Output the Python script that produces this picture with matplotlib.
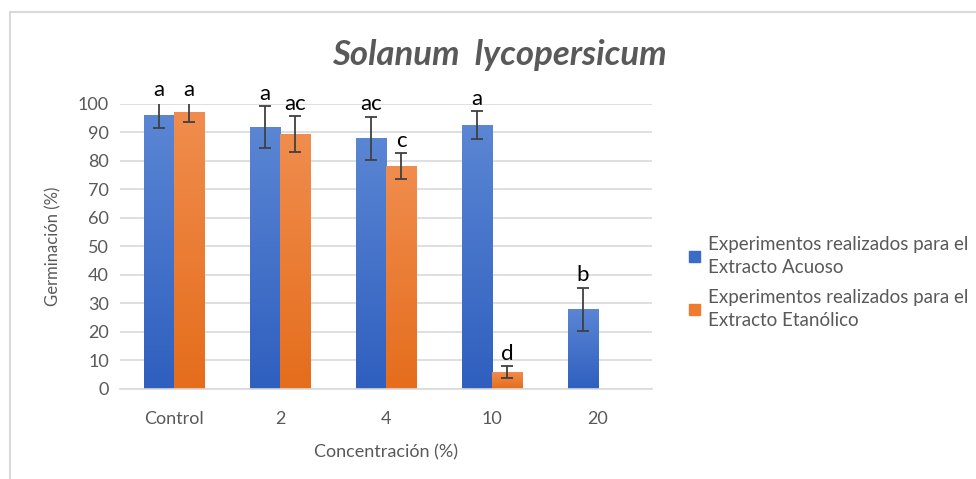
import matplotlib.pyplot as plt
import numpy as np
from matplotlib.patches import Rectangle
from matplotlib.colors import LinearSegmentedColormap

plt.rcParams['font.family'] = ['Lato', 'DejaVu Sans']

categories = ["Control", "2", "4", "10", "20"]
acuoso = [96, 92, 88, 92.6, 28]
acuoso_err = [4.5, 7.3, 7.5, 5, 7.5]
acuoso_letters = ["a", "a", "ac", "a", "b"]
etanolico = [97.2, 89.5, 78.3, 6, 0]
etanolico_err = [3.5, 6.2, 4.5, 2, 0]
etanolico_letters = ["a", "ac", "c", "d", ""]

blue_cmap = LinearSegmentedColormap.from_list("b", ["#2f5fbf", "#5b86d4"])
orange_cmap = LinearSegmentedColormap.from_list("o", ["#e56d1c", "#f08d4e"])

fig = plt.figure(figsize=(9.76, 4.79), dpi=100)
# outer frame like the office chart border
fig.patches.append(Rectangle((10 / 976, -0.1), 1.2, 1 - 12 / 479 + 0.1,
                             transform=fig.transFigure, fill=False,
                             edgecolor="#d9d9d9", linewidth=1.5))

ax = fig.add_axes([0.123, 0.188, 0.545, 0.595])
x = np.arange(len(categories))
w = 0.285


def gradient_bars(xs, vals, cmap):
    bars = ax.bar(xs, vals, w, color="none", edgecolor="none", zorder=2)
    grad = np.linspace(0, 1, 256).reshape(-1, 1)
    for b in bars:
        if b.get_height() <= 0:
            continue
        x0, y0 = b.get_x(), b.get_y()
        im = ax.imshow(grad, cmap=cmap, aspect="auto", origin="lower",
                       extent=(x0, x0 + b.get_width(), y0, y0 + b.get_height()),
                       zorder=2)
        im.set_clip_path(b)
    return bars


gradient_bars(x - w / 2, acuoso, blue_cmap)
gradient_bars(x + w / 2, etanolico, orange_cmap)

err_kw = dict(fmt="none", ecolor="#404040", elinewidth=1.3, capsize=4, capthick=1.3, zorder=3)
ax.errorbar(x - w / 2, acuoso, yerr=acuoso_err, **err_kw)
mask = np.array(etanolico_err) > 0
ax.errorbar((x + w / 2)[mask], np.array(etanolico)[mask], yerr=np.array(etanolico_err)[mask], **err_kw)

for xi, v, e, t in zip(x - w / 2, acuoso, acuoso_err, acuoso_letters):
    ax.text(xi, v + e + 0.8, t, ha="center", va="bottom", fontsize=16, color="black", clip_on=False)
for xi, v, e, t in zip(x + w / 2, etanolico, etanolico_err, etanolico_letters):
    if t:
        ax.text(xi, v + e + 0.8, t, ha="center", va="bottom", fontsize=16, color="black", clip_on=False)

ax.set_xlim(-0.51, 4.51)
ax.set_ylim(0, 100)
ax.set_yticks(range(0, 101, 10))
ax.set_xticks(x)
ax.set_xticklabels(categories)
ax.yaxis.grid(True, color="#d9d9d9", linewidth=1.2, zorder=0)
ax.set_axisbelow(True)
for s in ["top", "right", "left"]:
    ax.spines[s].set_visible(False)
ax.spines["bottom"].set_color("#d9d9d9")
ax.spines["bottom"].set_linewidth(1.2)
ax.tick_params(length=0, labelsize=13, colors="#595959", pad=8)
ax.tick_params(axis="x", pad=16)

ax.set_xlabel("Concentración (%)", fontsize=13, color="#595959", labelpad=12)
ax.set_ylabel("Germinación (%)", fontsize=12, color="#595959", labelpad=12)

fig.text(0.512, 0.885, "Solanum  lycopersicum", ha="center", va="center",
         fontsize=25, fontstyle="italic", fontweight="bold", color="#595959")

handles = [Rectangle((0, 0), 1, 1, color="#3a6bc9"), Rectangle((0, 0), 1, 1, color="#ee7b30")]
labels = ["Experimentos realizados para el\nExtracto Acuoso",
          "Experimentos realizados para el\nExtracto Etanólico"]
leg = fig.legend(handles, labels, loc="center left", bbox_to_anchor=(0.689, 0.41),
                 frameon=False, fontsize=13.5, handlelength=0.55, handleheight=0.55,
                 handletextpad=0.45, labelspacing=0.7, labelcolor="#595959")
for t in leg.get_texts():
    t.set_linespacing(1.45)

fig.savefig("out.png", dpi=100)
